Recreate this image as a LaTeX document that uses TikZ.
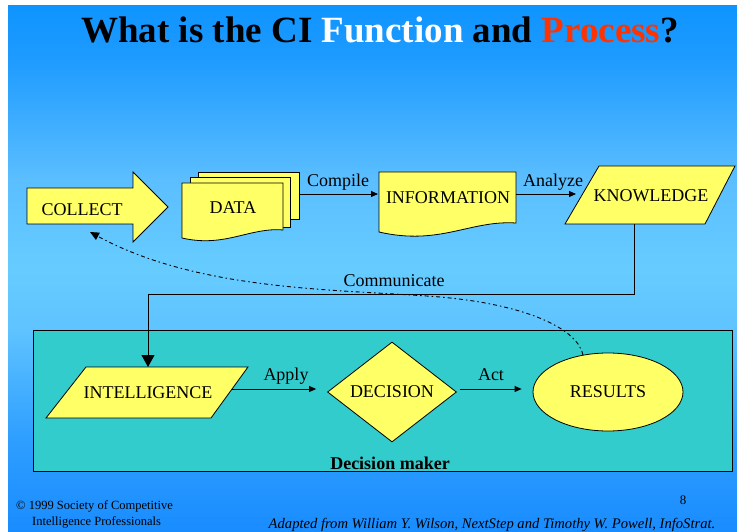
\documentclass[tikz,border=0pt]{standalone}
\usepackage{fontspec}
\setmainfont{Liberation Serif}
\usetikzlibrary{arrows.meta,shapes.geometric}

\definecolor{shapeyellow}{RGB}{255,255,102}
\definecolor{panelteal}{RGB}{51,204,204}
\definecolor{titlered}{RGB}{255,51,0}
\definecolor{bgtop}{RGB}{15,148,255}
\definecolor{bgB}{RGB}{30,155,255}
\definecolor{bgC}{RGB}{91,190,255}
\definecolor{bgmid}{RGB}{102,204,255}
\definecolor{bgD}{RGB}{95,195,255}
\definecolor{bgE}{RGB}{46,158,255}
\definecolor{bgbot}{RGB}{25,140,255}

% sky-blue backdrop, lightest in the middle
\pgfdeclareverticalshading{skyshade}{100bp}{color(0bp)=(bgbot); color(25bp)=(bgbot); color(33.8bp)=(bgE); color(44.2bp)=(bgD); color(50bp)=(bgmid); color(58.5bp)=(bgC); color(70bp)=(bgB); color(75bp)=(bgtop); color(100bp)=(bgtop)}

\tikzset{
  shapefill/.style={fill=shapeyellow, draw=black, line width=0.8pt, line join=miter},
  boxtext/.style={font=\fontsize{18}{20}\selectfont, inner sep=0pt, anchor=base},
  flowarrow/.style={draw=black, line width=0.8pt, -{Triangle[length=7pt,width=6pt]}},
  dropline/.style={draw=black, line width=0.8pt, -{Triangle[length=12pt,width=13pt]}},
  commline/.style={draw=black, line width=0.9pt, dash pattern=on 4pt off 3pt on 1.5pt off 3pt, -{Triangle[length=9pt,width=8pt]}},
}

\begin{document}
\begin{tikzpicture}[x=1pt,y=-1pt]
\useasboundingbox (0,0) rectangle (737,532);
\fill[white] (0,0) rectangle (737,532);
\shade[shading=skyshade] (8,6) rectangle (737,532);

% title
\node[anchor=base, inner sep=0pt, font=\fontsize{37}{40}\selectfont\bfseries] (title) at (380,43)
  {What is the CI \textcolor{white}{Function} and \textcolor{titlered}{Process}?};

% decision-maker panel
\filldraw[fill=panelteal, draw=black, line width=0.8pt] (33,330) rectangle (732,471);
\node[anchor=base, inner sep=0pt, font=\fontsize{18}{20}\selectfont\bfseries] (maker) at (390,469) {Decision maker};

% COLLECT block arrow
\filldraw[shapefill] (27,188) -- (133,188) -- (133,172) -- (168,207) -- (133,242) -- (133,224) -- (27,224) -- cycle;
\node[boxtext] (collect) at (82,215) {COLLECT};
\coordinate (commtip) at (90,232);

% DATA: stack of documents
\filldraw[shapefill] (198,172) rectangle (299,219);
\filldraw[shapefill] (190,177) rectangle (290,227);
\filldraw[shapefill] (182,183) -- (283,183) -- (283,230) .. controls (250,227) and (225,248) .. (182,238) -- cycle;
\node[boxtext] (data) at (233,214) {DATA};
\coordinate (data-e) at (299,194);

% INFORMATION document
\filldraw[shapefill] (379,172) -- (516,172) -- (516,223) .. controls (470,220) and (440,246) .. (379,232) -- cycle;
\node[boxtext] (information) at (448,204) {INFORMATION};
\coordinate (info-w) at (378,194);
\coordinate (info-e) at (516,194);

% KNOWLEDGE parallelogram
\filldraw[shapefill] (599,166) -- (735,166) -- (705,224) -- (565,224) -- cycle;
\node[boxtext] (knowledge) at (651,202) {KNOWLEDGE};
\coordinate (know-w) at (576,194);
\coordinate (know-s) at (634,224);

% INTELLIGENCE parallelogram
\filldraw[shapefill] (86,367) -- (248,367) -- (211,418) -- (46,418) -- cycle;
\node[boxtext] (intelligence) at (148,398) {INTELLIGENCE};
\coordinate (intel-n) at (148,367);
\coordinate (intel-e) at (232,389);

% DECISION and RESULTS
\node[diamond, shapefill, minimum width=129pt, minimum height=100pt, inner sep=0pt,
      font=\fontsize{18}{20}\selectfont] (decision) at (392,392) {DECISION};
\node[ellipse, shapefill, minimum width=150pt, minimum height=78pt, inner sep=0pt,
      font=\fontsize{18}{20}\selectfont] (results) at (608,392) {RESULTS};

% flow connectors
\draw[flowarrow] (data-e) -- (info-w);
\node[boxtext] (compile) at (338,187) {Compile};
\draw[flowarrow] (info-e) -- (know-w);
\node[boxtext] (analyze) at (553,186) {Analyze};
\draw[dropline] (know-s) -- ++(0,70) -| (intel-n);
\node[boxtext] (communicate) at (394,286) {Communicate};
\draw[flowarrow] (intel-e) -- ([shift={(-11,-3)}]decision.west);
\node[boxtext] (apply) at (286,380) {Apply};
\draw[flowarrow] ([shift={(3,-3)}]decision.east) -- ([shift={(-11,-3)}]results.west);
\node[boxtext] (act) at (491,380) {Act};

% feedback from results back to collection
\draw[commline] (results.124) .. controls (578,330) and (530,305) .. (440,297)
  .. controls (340,289) and (200,292) .. (commtip);

% footer
\node[anchor=base west, inner sep=0pt, font=\fontsize{12.5}{14}\selectfont] (copy1) at (16,509) {© 1999 Society of Competitive};
\node[anchor=base west, inner sep=0pt, font=\fontsize{12.5}{14}\selectfont] (copy2) at (32,525) {Intelligence Professionals};
\node[anchor=base, inner sep=0pt, font=\fontsize{13}{15}\selectfont] (pagenum) at (683,504) {8};
\node[anchor=base, inner sep=0pt, font=\fontsize{14.6}{16}\selectfont\itshape] (credit) at (492,528)
  {Adapted from William Y. Wilson, NextStep and Timothy W. Powell, InfoStrat.};
\end{tikzpicture}
\end{document}
